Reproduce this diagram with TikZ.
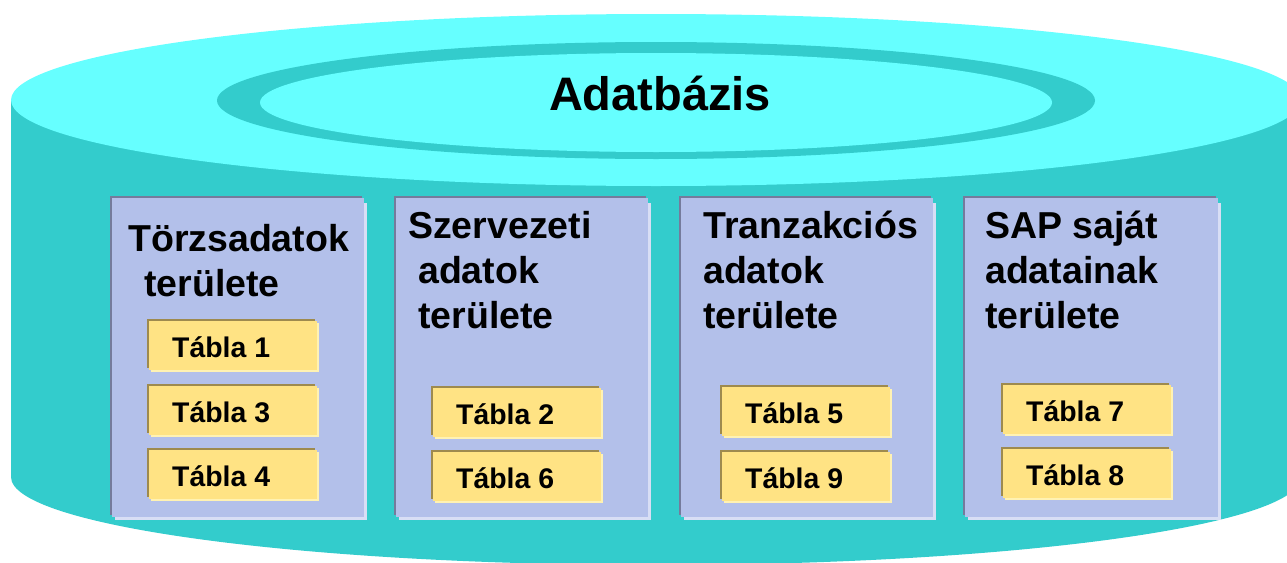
\documentclass[tikz,border=0pt]{standalone}
\usepackage{fontspec}
\setmainfont{Liberation Sans}
\definecolor{cylside}{HTML}{33CCCC}
\definecolor{cyltop}{HTML}{66FFFF}
\definecolor{panelfillc}{HTML}{B3C0EA}
\definecolor{paneldarkc}{HTML}{757B9C}
\definecolor{panellightc}{HTML}{D8DEF5}
\definecolor{tabfillc}{HTML}{FFE384}
\definecolor{tabdarkc}{HTML}{9E8A4E}
\definecolor{tablightc}{HTML}{FFF2B3}
\newcommand\mypanel[3]{% name, left x, right x (of fill)
  \fill[panellightc] (#2+3,203) rectangle (#3+3,519.5);
  \fill[paneldarkc] (#2-2,196) rectangle (#3-2,515);
  \fill[panelfillc] (#2,198) rectangle (#3,517);
  \coordinate (#1) at (#2,198);
}
\newcommand\mytabla[4]{% name, x, y, label
  \fill[tablightc] (#2+4,#3+4) rectangle ++(168,49);
  \fill[tabdarkc] (#2,#3) rectangle ++(168,49);
  \node[tabbox] (#1) at (#2+2,#3+2) {};
  \node[tabtext] (#1t) at (#2+25,#3+38) {Tábla #4};
}
\begin{document}
\begin{tikzpicture}[x=1pt,y=-1pt,
  tabbox/.style={fill=tabfillc, minimum width=168pt, minimum height=49pt, inner sep=0pt, anchor=north west},
  tabtext/.style={anchor=base west, inner sep=0pt, font=\fontsize{28.4}{34}\selectfont\bfseries},
  headtext/.style={anchor=base west, inner sep=0pt, font=\fontsize{37.5}{45}\selectfont\bfseries},
  titletext/.style={anchor=base, inner sep=0pt, font=\fontsize{47}{56}\selectfont\bfseries}]
\useasboundingbox (0,0) rectangle (1287,562);
\clip (0,0) rectangle (1287,562);
% cylinder
\fill[cylside] (11,100) -- (11,477) arc[start angle=180,end angle=360,x radius=645pt,y radius=88pt] -- (1301,100) -- cycle;
\fill[cyltop] (656,100) ellipse [x radius=645pt, y radius=86pt];
\fill[cylside] (656,100.5) ellipse [x radius=439pt, y radius=58.5pt];
\fill[cyltop] (656,102.5) ellipse [x radius=396pt, y radius=49.5pt];
\node[titletext] (title) at (660,110) {Adatbázis};
% panels
\mypanel{p1}{112}{364}
\mypanel{p2}{396}{648}
\mypanel{p3}{681}{933}
\mypanel{p4}{965}{1218}
% headings
\node[headtext] (h1a) at (128,251.7) {Törzsadatok};
\node[headtext] (h1b) at (144,296.7) {területe};
\node[headtext] (h2a) at (408,238) {Szervezeti};
\node[headtext] (h2b) at (418,283) {adatok};
\node[headtext] (h2c) at (418,328) {területe};
\node[headtext] (h3a) at (703,238) {Tranzakciós};
\node[headtext] (h3b) at (703,283) {adatok};
\node[headtext] (h3c) at (703,328) {területe};
\node[headtext] (h4a) at (985,238) {SAP saját};
\node[headtext] (h4b) at (985,283) {adatainak};
\node[headtext] (h4c) at (985,328) {területe};
% tables
\mytabla{t1}{147}{319}{1}
\mytabla{t3}{147}{384}{3}
\mytabla{t4}{147}{448}{4}
\mytabla{t2}{431}{386}{2}
\mytabla{t6}{431}{450}{6}
\mytabla{t5}{720}{385}{5}
\mytabla{t9}{720}{450}{9}
\mytabla{t7}{1001}{383}{7}
\mytabla{t8}{1001}{447}{8}
\end{tikzpicture}
\end{document}
